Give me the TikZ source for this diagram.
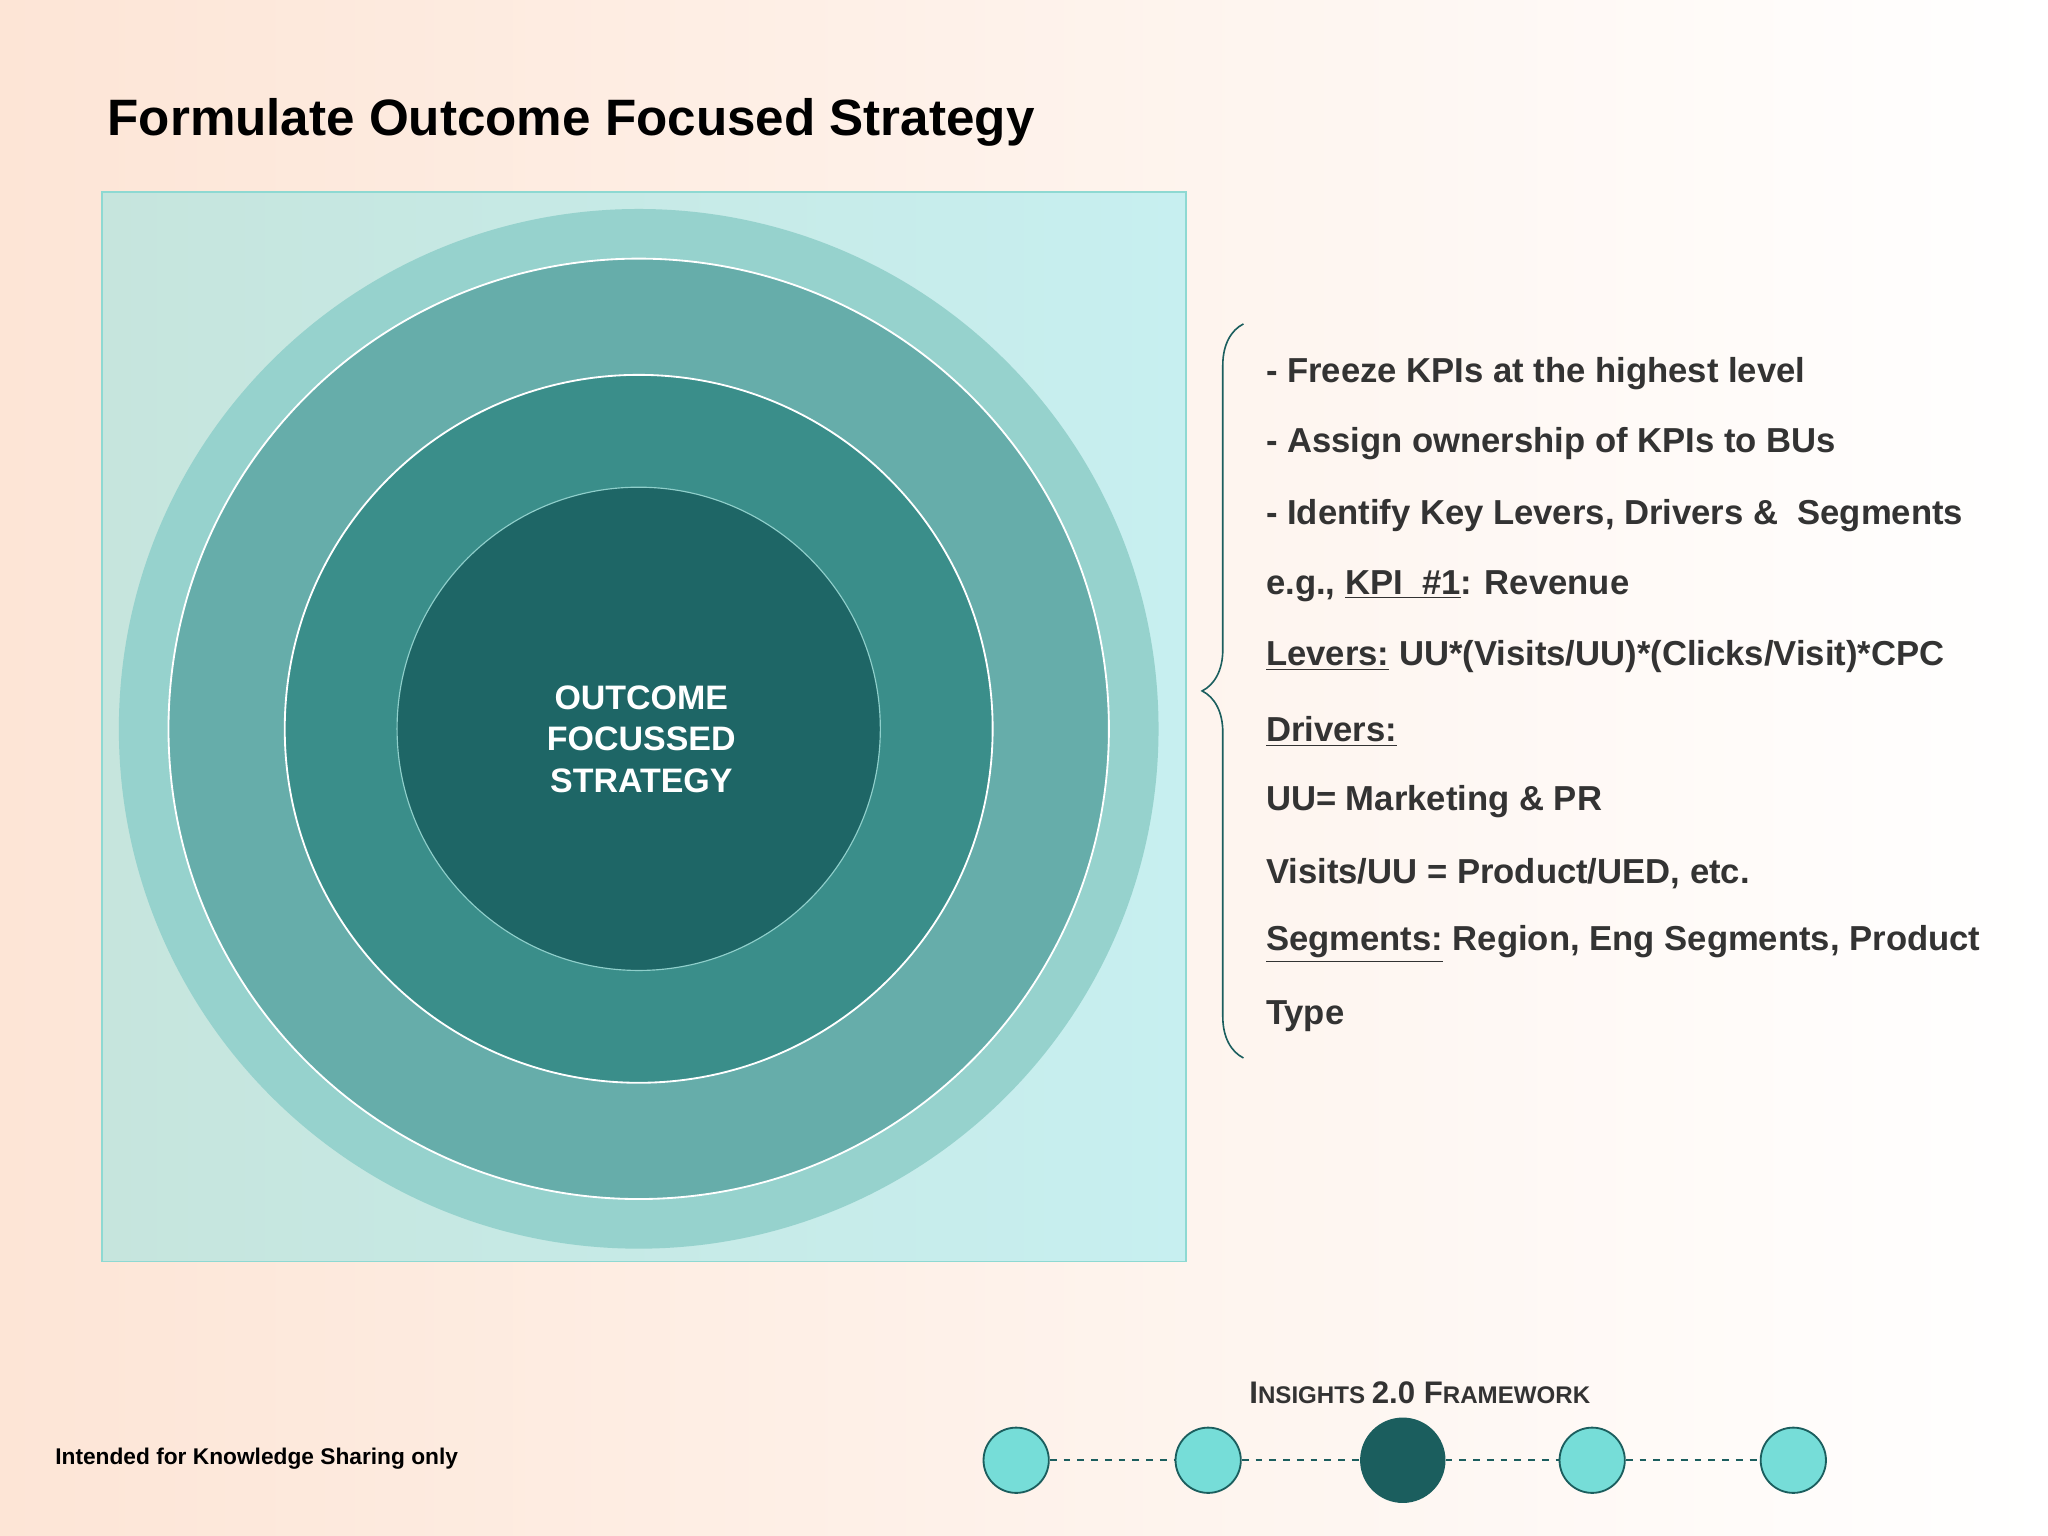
\documentclass[tikz,border=0pt]{standalone}
\usepackage{fontspec}
\setmainfont{Liberation Sans}
\usetikzlibrary{decorations.pathreplacing}
\definecolor{txt}{HTML}{333333}
\definecolor{c1}{HTML}{96D2CD}
\definecolor{c2}{HTML}{66ADAA}
\definecolor{c3}{HTML}{3A8E8A}
\definecolor{c4}{HTML}{1E6666}
\definecolor{dot}{HTML}{76DDD8}
\definecolor{dk}{HTML}{1B5E5E}
\definecolor{bgl}{HTML}{FDE5D6}
\definecolor{sql}{HTML}{C6E5DD}
\definecolor{sqr}{HTML}{C7EFF0}
\definecolor{sqb}{HTML}{8ED9D2}
\definecolor{c4b}{HTML}{8FCFCB}
\tikzset{px/.style={x=0.02cm,y=-0.02cm},
 item/.style={anchor=west,text=txt,font=\fontsize{15.1}{17}\selectfont\bfseries,inner sep=0},
 step dot/.style={circle,draw=dk,line width=0.8pt,fill=dot,minimum size=1cm,inner sep=0}}
\begin{document}
\begin{tikzpicture}[px]
\useasboundingbox (0,0) rectangle (1568,1176);
\shade[left color=bgl,right color=white] (0,0) rectangle (1568,1176);
\node[anchor=west,font=\fontsize{22.3}{25}\selectfont\bfseries,inner sep=0] (title) at (82,94) {Formulate Outcome Focused Strategy};
\shade[left color=sql,right color=sqr] (78,147) rectangle (908,966);
\draw[draw=sqb,line width=0.6pt] (78,147) rectangle (908,966);
\fill[c1] (489,558) circle[radius=398];
\filldraw[fill=c2,draw=white,line width=0.8pt] (489,558) circle[radius=360];
\filldraw[fill=c3,draw=white,line width=0.8pt] (489,558) circle[radius=271];
\filldraw[fill=c4,draw=c4b,line width=0.5pt] (489,558) circle[radius=185];
\node[align=center,text=white,font=\fontsize{14.8}{18}\selectfont\bfseries] (core) at (491,566) {OUTCOME\\FOCUSSED\\STRATEGY};
\coordinate (bt) at (952,248);
\coordinate (bb) at (952,810);
\draw[dk,line width=0.7pt,decorate,decoration={brace,amplitude=18pt,aspect=0.5}] (bb) -- (bt);
\node[item] (l1) at (969,286) {- Freeze KPIs at the highest level};
\node[item] (l2) at (969,340) {- Assign ownership of KPIs to BUs};
\node[item] (l3) at (969,395) {- Identify Key Levers, Drivers \&\ \ Segments};
\node[item] (l4) at (969,449) {e.g., \underline{KPI\ \ \#1}: Revenue};
\node[item] (l5) at (969,503) {\underline{Levers:} UU*(Visits/UU)*(Clicks/Visit)*CPC};
\node[item] (l6) at (969,560) {\underline{Drivers:}};
\node[item] (l7) at (969,614) {UU= Marketing \& PR};
\node[item] (l8) at (969,669) {Visits/UU = Product/UED, etc.};
\node[item] (l9) at (969,723) {\underline{Segments:} Region, Eng Segments, Product};
\node[item] (l10) at (969,778) {Type};
\node[anchor=west,inner sep=0,font=\fontsize{9.9}{11}\selectfont\bfseries] (foot) at (42,1117) {Intended for Knowledge Sharing only};
\node[font=\fontsize{13.6}{15}\selectfont\bfseries,text=txt] (fw) at (1087,1066) {I\fontsize{10.5}{12}\selectfont NSIGHTS \fontsize{13.6}{15}\selectfont 2.0 F\fontsize{10.5}{12}\selectfont RAMEWORK};
\node[step dot] (d1) at (778,1118) {};
\node[step dot] (d2) at (925,1118) {};
\node[step dot,fill=dk,minimum size=1.28cm] (d3) at (1074,1118) {};
\node[step dot] (d4) at (1219,1118) {};
\node[step dot] (d5) at (1373,1118) {};
\foreach \a/\b in {d1/d2,d2/d3,d3/d4,d4/d5}
  \draw[dk,dashed,line width=0.8pt] (\a) -- (\b);
\end{tikzpicture}
\end{document}
